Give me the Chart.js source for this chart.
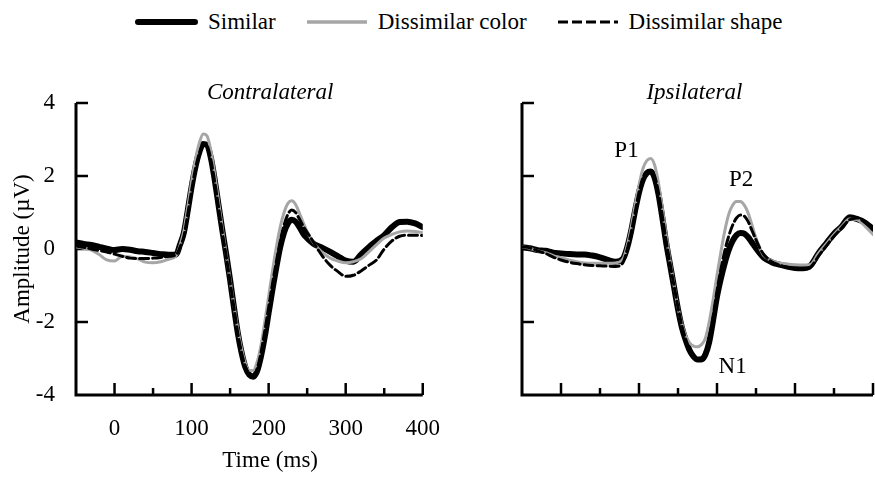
<!DOCTYPE html>
<html>
<head>
<meta charset="utf-8">
<script src="https://cdn.jsdelivr.net/npm/chart.js@4.4.1/dist/chart.umd.min.js"></script>
<style>
  body { margin: 0; width: 875px; height: 485px; overflow: hidden; position: relative; background: #fff; color: #000; }
  canvas { position: absolute; top: 0; }
  #contraChart { left: 0; }
  #ipsiChart { left: 446px; }
  #legend { position: absolute; top: 8px; left: 135px; height: 28px; display: flex; align-items: center; font-size: 23px; }
  .item { display: flex; align-items: center; margin-right: 30px; }
  .item svg { margin-right: 10px; }
</style>
</head>
<body>
<div id="legend" style="font-family:'Liberation Serif', serif">
  <div class="item"><svg width="63" height="10"><line x1="3" y1="5" x2="60" y2="5" stroke="#000" stroke-width="6" stroke-linecap="round"/></svg>Similar</div>
  <div class="item"><svg width="62" height="10"><line x1="1" y1="5" x2="61" y2="5" stroke="#a6a6a6" stroke-width="3.5"/></svg>Dissimilar color</div>
  <div class="item"><svg width="62" height="10"><line x1="1" y1="5" x2="61" y2="5" stroke="#000" stroke-width="3.2" stroke-dasharray="10 4"/></svg>Dissimilar shape</div>
</div>
<canvas id="contraChart" width="460" height="485"></canvas>
<canvas id="ipsiChart" width="429" height="485"></canvas>
<script>
// time points (ms), finer around the components
const times = [-50, -40, -30, -20, -10, 0, 10, 20, 30, 40, 50, 60, 70, 80,
  85, 90, 95, 100, 105, 110, 115, 120, 125, 130, 135, 140, 145, 150, 155, 160, 165, 170, 175, 180,
  185, 190, 195, 200, 205, 210, 215, 220, 225, 230, 235, 240, 245, 250, 255, 260,
  270, 280, 290, 300, 310, 320, 330, 340, 350, 360, 370, 380, 390, 400];

// Contralateral (uV)
const contraSimilar = [0.18, 0.14, 0.11, 0.06, 0.01, -0.03, 0.0, -0.02, -0.06, -0.08, -0.11, -0.14, -0.16, -0.15,
  0.12, 0.45, 1.05, 1.7, 2.25, 2.65, 2.88, 2.85, 2.5, 1.9, 1.2, 0.5, -0.15, -0.85, -1.6, -2.3, -2.85, -3.25, -3.45, -3.5,
  -3.35, -2.95, -2.4, -1.75, -1.1, -0.5, 0.05, 0.45, 0.7, 0.8, 0.75, 0.6, 0.42, 0.3, 0.2, 0.12,
  0.03, -0.08, -0.2, -0.32, -0.35, -0.15, 0.05, 0.22, 0.38, 0.6, 0.74, 0.75, 0.7, 0.6];
const contraColor = [0.06, 0.02, -0.03, -0.15, -0.3, -0.33, -0.2, -0.22, -0.27, -0.36, -0.38, -0.35, -0.28, -0.18,
  0.1, 0.5, 1.15, 1.85, 2.45, 2.9, 3.15, 3.1, 2.7, 2.05, 1.3, 0.55, -0.15, -0.85, -1.55, -2.2, -2.75, -3.15, -3.33, -3.33,
  -3.1, -2.65, -2.0, -1.3, -0.6, 0.05, 0.6, 1.0, 1.25, 1.32, 1.22, 0.98, 0.72, 0.48, 0.28, 0.12,
  -0.1, -0.25, -0.33, -0.38, -0.35, -0.27, -0.08, 0.12, 0.3, 0.4, 0.47, 0.49, 0.48, 0.45];
const contraShape = [0.08, 0.05, 0.0, -0.04, -0.08, -0.14, -0.2, -0.25, -0.26, -0.26, -0.25, -0.23, -0.2, -0.16,
  0.05, 0.35, 0.95, 1.6, 2.2, 2.62, 2.85, 2.82, 2.45, 1.85, 1.15, 0.45, -0.2, -0.9, -1.6, -2.3, -2.85, -3.22, -3.42, -3.45,
  -3.28, -2.85, -2.25, -1.6, -0.95, -0.35, 0.2, 0.65, 0.95, 1.07, 1.0, 0.82, 0.62, 0.45, 0.3, 0.12,
  -0.2, -0.45, -0.62, -0.75, -0.72, -0.6, -0.45, -0.3, 0.0, 0.22, 0.35, 0.38, 0.38, 0.37];

// Ipsilateral (uV)
const ipsiSimilar = [0.05, 0.02, -0.03, -0.05, -0.1, -0.12, -0.14, -0.15, -0.15, -0.18, -0.23, -0.3, -0.35, -0.25,
  0.05, 0.5, 1.05, 1.55, 1.9, 2.08, 2.12, 1.95, 1.5, 0.85, 0.15, -0.45, -1.05, -1.65, -2.15, -2.5, -2.78, -2.95, -3.03, -3.03,
  -2.9, -2.55, -1.95, -1.3, -0.8, -0.38, -0.03, 0.22, 0.38, 0.44, 0.42, 0.32, 0.17, 0.02, -0.12, -0.24,
  -0.36, -0.43, -0.48, -0.52, -0.53, -0.45, -0.12, 0.15, 0.42, 0.62, 0.87, 0.82, 0.72, 0.55];
const ipsiColor = [0.06, 0.02, -0.05, -0.1, -0.18, -0.24, -0.3, -0.35, -0.38, -0.39, -0.39, -0.39, -0.38, -0.25,
  0.1, 0.6, 1.2, 1.75, 2.2, 2.42, 2.48, 2.3, 1.8, 1.1, 0.35, -0.35, -1.0, -1.6, -2.05, -2.38, -2.57, -2.66, -2.68, -2.62,
  -2.45, -2.0, -1.4, -0.72, -0.08, 0.5, 0.95, 1.2, 1.3, 1.3, 1.2, 0.98, 0.65, 0.3, 0.02, -0.18,
  -0.32, -0.38, -0.41, -0.43, -0.44, -0.42, -0.12, 0.14, 0.4, 0.62, 0.82, 0.8, 0.62, 0.4];
const ipsiShape = [0.06, 0.03, -0.05, -0.12, -0.22, -0.3, -0.36, -0.4, -0.43, -0.45, -0.46, -0.47, -0.48, -0.35,
  0.0, 0.45, 1.0, 1.55, 1.95, 2.12, 2.15, 2.0, 1.55, 0.9, 0.2, -0.42, -1.02, -1.6, -2.1, -2.48, -2.76, -2.93, -3.0, -2.98,
  -2.82, -2.45, -1.85, -1.15, -0.55, -0.05, 0.35, 0.65, 0.85, 0.93, 0.9, 0.75, 0.5, 0.25, 0.02, -0.15,
  -0.35, -0.44, -0.5, -0.54, -0.56, -0.5, -0.2, 0.08, 0.35, 0.58, 0.8, 0.85, 0.72, 0.55];

// axis ticks
const xLabelTicks = [0, 100, 200, 300, 400];
const xMarkTicks = [0, 50, 100, 150, 200, 250, 300, 350, 400];
const yTicks = [-4, -2, 0, 2, 4];

const serif = "'Liberation Serif', serif";
const font = { family: serif, size: 23 };
Chart.defaults.font.family = serif;

function toXY(vals) {
    return times.map((t, i) => ({ x: t, y: vals[i] }));
}

// axis lines, inward tick marks, titles and peak labels
const eegAxes = {
    id: 'eegAxes',
    beforeDatasetsDraw(chart, args, opts) {
        const { ctx } = chart;
        const x = chart.scales.x, y = chart.scales.y;
        const left = x.getPixelForValue(-50), right = x.getPixelForValue(400);
        const top = y.getPixelForValue(4), bottom = y.getPixelForValue(-4);
        ctx.save();
        ctx.strokeStyle = '#000';
        ctx.lineWidth = 2.5;
        ctx.beginPath();
        xMarkTicks.forEach(function(t) {
            const px = x.getPixelForValue(t);
            ctx.moveTo(px, bottom);
            ctx.lineTo(px, bottom - (t % 100 === 0 ? 12 : 7));
        });
        [4, 2, 0, -2].forEach(function(v) {
            const py = y.getPixelForValue(v);
            ctx.moveTo(left, py);
            ctx.lineTo(left + 12, py);
        });
        ctx.stroke();
        ctx.lineWidth = 3;
        ctx.beginPath();
        ctx.moveTo(left, top);
        ctx.lineTo(left, bottom);
        ctx.lineTo(right, bottom);
        ctx.stroke();
        ctx.restore();
    },
    afterDatasetsDraw(chart, args, opts) {
        const { ctx } = chart;
        const x = chart.scales.x, y = chart.scales.y;
        ctx.save();
        ctx.fillStyle = '#000';
        ctx.textAlign = 'center';
        ctx.textBaseline = 'alphabetic';
        ctx.font = 'italic 23px ' + serif;
        ctx.fillText(opts.title, x.getPixelForValue(opts.titleAt[0]), y.getPixelForValue(opts.titleAt[1]));
        ctx.font = '23px ' + serif;
        (opts.notes || []).forEach(function(n) {
            ctx.fillText(n.text, x.getPixelForValue(n.at[0]), y.getPixelForValue(n.at[1]));
        });
        // x axis title sits under the 200 ms label, like the original figure
        if (opts.xTitle) {
            ctx.fillText(opts.xTitle, x.getPixelForValue(202), chart.height - 18);
        }
        ctx.restore();
    }
};

function makePanel(canvasId, similar, color, shape, panel) {
    const ctx = document.getElementById(canvasId).getContext('2d');
    return new Chart(ctx, {
        type: 'line',
        data: {
            datasets: [{
                label: 'Dissimilar shape',
                data: toXY(shape),
                borderColor: '#000',
                borderWidth: 3,
                borderDash: [9, 4],
                order: 1
            }, {
                label: 'Dissimilar color',
                data: toXY(color),
                borderColor: '#a6a6a6',
                borderWidth: 3,
                order: 2
            }, {
                label: 'Similar',
                data: toXY(similar),
                borderColor: '#000',
                borderWidth: 6,
                order: 3
            }]
        },
        options: {
            responsive: false,
            animation: false,
            devicePixelRatio: 1,
            layout: { padding: { left: 0, top: 103, right: panel.padRight, bottom: 0 } },
            elements: {
                point: { radius: 0 },
                line: { cubicInterpolationMode: 'monotone', borderJoinStyle: 'round', borderCapStyle: 'round' }
            },
            plugins: {
                legend: { display: false },
                tooltip: { enabled: false },
                eegAxes: { title: panel.title, titleAt: panel.titleAt, notes: panel.notes, xTitle: panel.xTitle }
            },
            scales: {
                x: {
                    type: 'linear',
                    min: -50,
                    max: 400,
                    grid: { display: false, drawTicks: false },
                    border: { display: false },
                    afterBuildTicks: function(axis) { axis.ticks = xLabelTicks.map(v => ({ value: v })); },
                    afterFit: function(axis) { axis.height = 90; },
                    ticks: { display: panel.labels, autoSkip: false, maxRotation: 0, padding: 20, color: '#000', font: font }
                },
                y: {
                    min: -4,
                    max: 4,
                    grid: { display: false, drawTicks: false },
                    border: { display: false },
                    afterBuildTicks: function(axis) { axis.ticks = yTicks.map(v => ({ value: v })); },
                    afterFit: function(axis) { axis.width = 76; },
                    ticks: { display: panel.labels, padding: 21, color: '#000', font: font },
                    title: { display: panel.labels, text: 'Amplitude (\u00b5V)', color: '#000', font: font, padding: { top: 9, bottom: 0 } }
                }
            }
        },
        plugins: [eegAxes]
    });
}

makePanel('contraChart', contraSimilar, contraColor, contraShape, {
    labels: true,
    padRight: 34,
    title: 'Contralateral',
    titleAt: [202, 4.1],
    xTitle: 'Time (ms)',
    notes: []
});

makePanel('ipsiChart', ipsiSimilar, ipsiColor, ipsiShape, {
    labels: false,
    padRight: 2,
    title: 'Ipsilateral',
    titleAt: [171, 4.1],
    notes: [
        { text: 'P1', at: [84, 2.52] },
        { text: 'P2', at: [231, 1.73] },
        { text: 'N1', at: [220, -3.4] }
    ]
});
</script>
</body>
</html>
